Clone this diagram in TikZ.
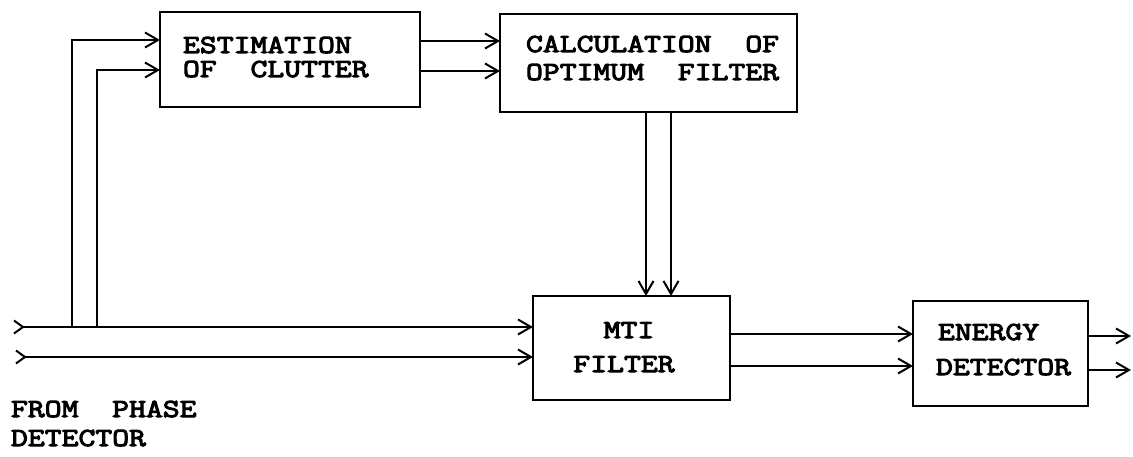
\documentclass[tikz,border=0pt]{standalone}
\usepackage{fontspec}
\usetikzlibrary{arrows.meta}
\newfontfamily\twfam[FakeStretch=1.26,FakeBold=4]{Latin Modern Mono}
\newcommand\twfont{\twfam\fontsize{26}{26}\selectfont}
\tikzset{
  box/.style={draw, line width=2.2pt, inner sep=0pt, outer sep=0pt},
  txt/.style={font=\twfont, inner sep=0pt, outer sep=0pt, text height=15pt, text depth=0pt},
  tipA/.tip={Straight Barb[length=13pt, width=15pt, line width=2pt]},
  arr/.style={line width=2.2pt, -tipA},
  inarr/.style={line width=2.2pt, {Straight Barb[reversed, length=9pt, width=13pt, line width=2pt]}-tipA},
}
\begin{document}
\begin{tikzpicture}[x=1pt,y=-1pt]
\useasboundingbox (0,0) rectangle (1133,457);
% boxes
\node[box, minimum width=260pt, minimum height=95pt] (est) at (290,59.5) {};
\node[box, minimum width=297pt, minimum height=98pt] (calc) at (648.5,63) {};
\node[box, minimum width=197pt, minimum height=104pt] (mti) at (631.5,348) {};
\node[box, minimum width=175pt, minimum height=105pt] (en) at (1000.5,353.5) {};
% texts
\node[txt, anchor=base west] (estA) at (183,53) {ESTIMATION};
\node[txt, anchor=base west] (estB) at (183,77) {OF\ \ CLUTTER};
\node[txt, anchor=base west] (calA) at (526,52) {CALCULATION\ \ OF};
\node[txt, anchor=base west] (calB) at (526,80) {OPTIMUM\ \ FILTER};
\node[txt, anchor=base] (mtiA) at (629,338) {MTI};
\node[txt, anchor=base] (mtiB) at (624,372) {FILTER};
\node[txt, anchor=base west] (enA) at (938,340) {ENERGY};
\node[txt, anchor=base west] (enB) at (936,375) {DETECTOR};
\node[txt, anchor=base west] (fromA) at (11,417) {FROM\ \ PHASE};
\node[txt, anchor=base west] (fromB) at (11,446) {DETECTOR};
% coordinates
\coordinate (in1) at (13,327);
\coordinate (in2) at (15,357);
\coordinate (jA) at (72,327);
\coordinate (jB) at (97,327);
\coordinate (dA) at (646,112);
\coordinate (dB) at (671,112);
\coordinate (out1) at (1131,336);
\coordinate (out2) at (1131,370);
% connectors
\draw[inarr] (in1) -- (in1 -| mti.west);
\draw[inarr] (in2) -- (in2 -| mti.west);
\draw[arr] (jA) |- (est.west |- 0,40);
\draw[arr] (jB) |- (est.west |- 0,70);
\draw[arr] (est.east |- 0,41) -- (calc.west |- 0,41);
\draw[arr] (est.east |- 0,71) -- (calc.west |- 0,71);
\draw[arr] (dA) -- (dA |- mti.north);
\draw[arr] (dB) -- (dB |- mti.north);
\draw[arr] (mti.east |- 0,334) -- (en.west |- 0,334);
\draw[arr] (mti.east |- 0,366) -- (en.west |- 0,366);
\draw[arr] (en.east |- out1) -- (out1);
\draw[arr] (en.east |- out2) -- (out2);
\end{tikzpicture}
\end{document}
